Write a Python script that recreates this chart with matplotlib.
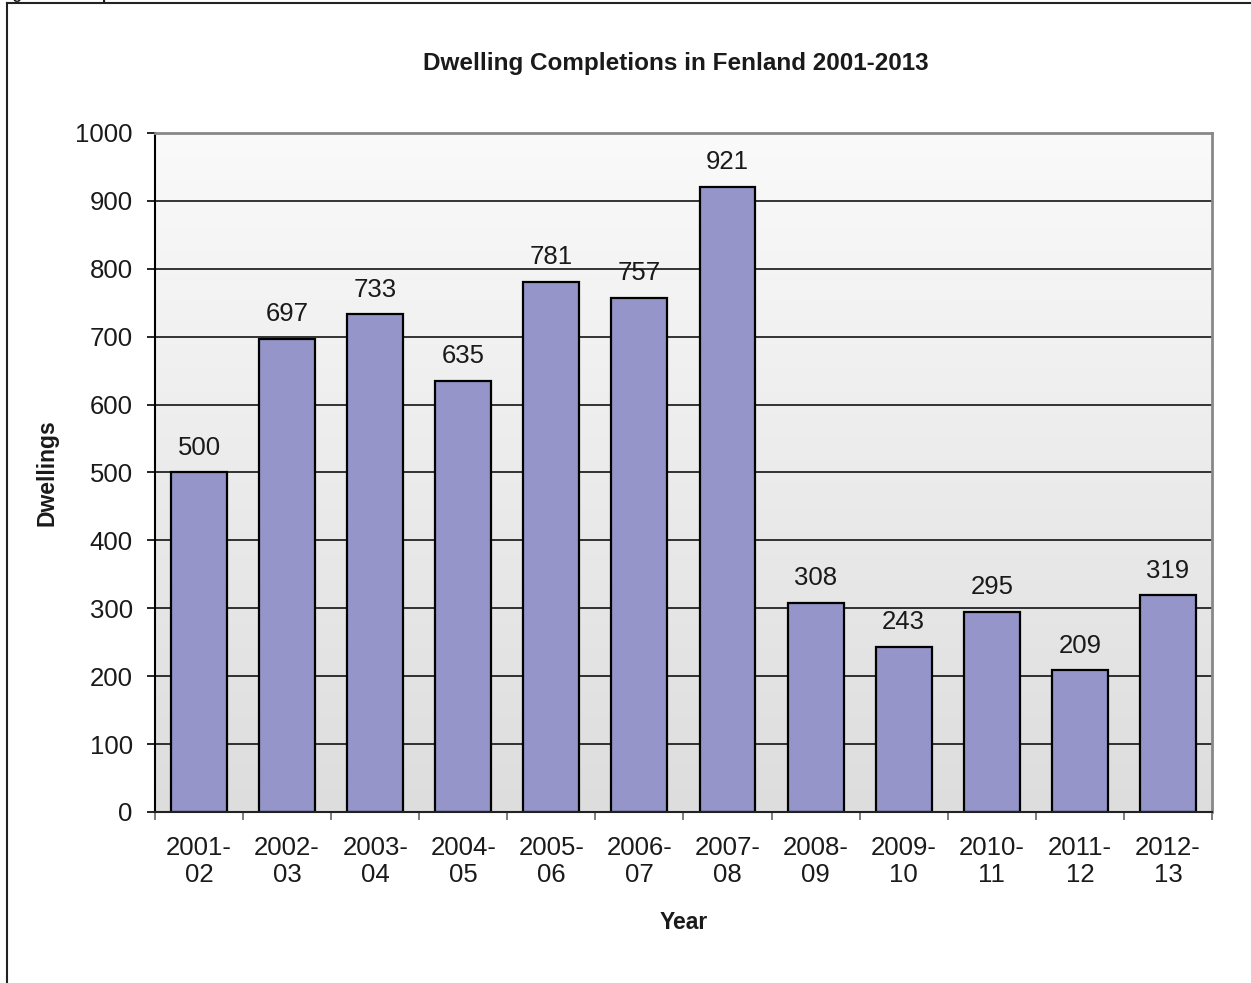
import numpy as np
import matplotlib
matplotlib.use("Agg")
import matplotlib.pyplot as plt
from matplotlib.lines import Line2D

plt.rcParams['font.family'] = ['Liberation Sans', 'DejaVu Sans']

# Dwelling completions per financial year
years = ['2001-\n02', '2002-\n03', '2003-\n04', '2004-\n05', '2005-\n06', '2006-\n07',
         '2007-\n08', '2008-\n09', '2009-\n10', '2010-\n11', '2011-\n12', '2012-\n13']
completions = [500, 697, 733, 635, 781, 757, 921, 308, 243, 295, 209, 319]
y_ticks = [0, 100, 200, 300, 400, 500, 600, 700, 800, 900, 1000]

fig = plt.figure(figsize=(12.51, 9.83), dpi=100)
ax = fig.add_axes([0.1239, 0.1740, 0.8449, 0.6907])

x = np.arange(len(years))
ax.set_xlim(-0.5, len(years) - 0.5)
ax.set_ylim(0, 1000)

# grey gradient plot area, lighter at the top
grad = np.linspace(0, 1, 256).reshape(-1, 1)
ax.imshow(grad, extent=(-0.5, len(years) - 0.5, 0, 1000), aspect='auto',
          cmap=matplotlib.colors.LinearSegmentedColormap.from_list('bg', ['#dddddd', '#fafafa']),
          origin='lower', zorder=0)

for v in y_ticks[1:]:
    ax.axhline(v, color='black', lw=1.1, zorder=1)

bars = ax.bar(x, completions, width=0.635, color='#9595c9', edgecolor='black',
              linewidth=1.6, zorder=2)
for xi, v in zip(x, completions):
    ax.annotate(str(v), (xi, v), xytext=(0, 9), textcoords='offset points',
                ha='center', va='bottom', fontsize=18.5, color='#1a1a1a')

ax.set_yticks(y_ticks)
ax.set_yticklabels([str(v) for v in y_ticks], fontsize=18.5, color='#1a1a1a')
ax.tick_params(axis='y', direction='out', length=6, width=1.2, color='black', pad=10)

ax.set_xticks(x)
ax.set_xticklabels(years, fontsize=18.5, color='#1a1a1a', linespacing=1.2)
ax.tick_params(axis='x', which='major', length=0, pad=17)
ax.set_xticks(np.arange(-0.5, len(years)), minor=True)
ax.tick_params(axis='x', which='minor', direction='out', length=6, width=1.2, color='#666666')

for side in ('top', 'right'):
    ax.spines[side].set_color('#888888')
    ax.spines[side].set_linewidth(2)
ax.spines['left'].set_color('black')
ax.spines['left'].set_linewidth(1.5)
ax.spines['bottom'].set_color('#222222')
ax.spines['bottom'].set_linewidth(1.5)

ax.set_title('Dwelling Completions in Fenland 2001-2013', fontsize=17.5, fontweight='bold',
             color='#1a1a1a', pad=45, x=0.4925)
ax.set_ylabel('Dwellings', fontsize=16.5, fontweight='bold', color='#1a1a1a', labelpad=12)
ax.set_xlabel('Year', fontsize=16.5, fontweight='bold', color='#1a1a1a', labelpad=17)

# caption line above the chart, mostly cut off at the top edge
fig.text(-0.001, 1 + 1.5 / 983, 'Figure 4: Completions', fontsize=11, fontweight='bold',
         color='#1a1a1a', ha='left', va='baseline')

# outer chart frame (left and top edges)
fig.add_artist(Line2D([7 / 1251, 7 / 1251], [0, 1 - 3 / 983], color='#222222', lw=1.5))
fig.add_artist(Line2D([7 / 1251, 1], [1 - 3 / 983, 1 - 3 / 983], color='#222222', lw=1.5))

fig.savefig('out.png', dpi=100, facecolor='white')
